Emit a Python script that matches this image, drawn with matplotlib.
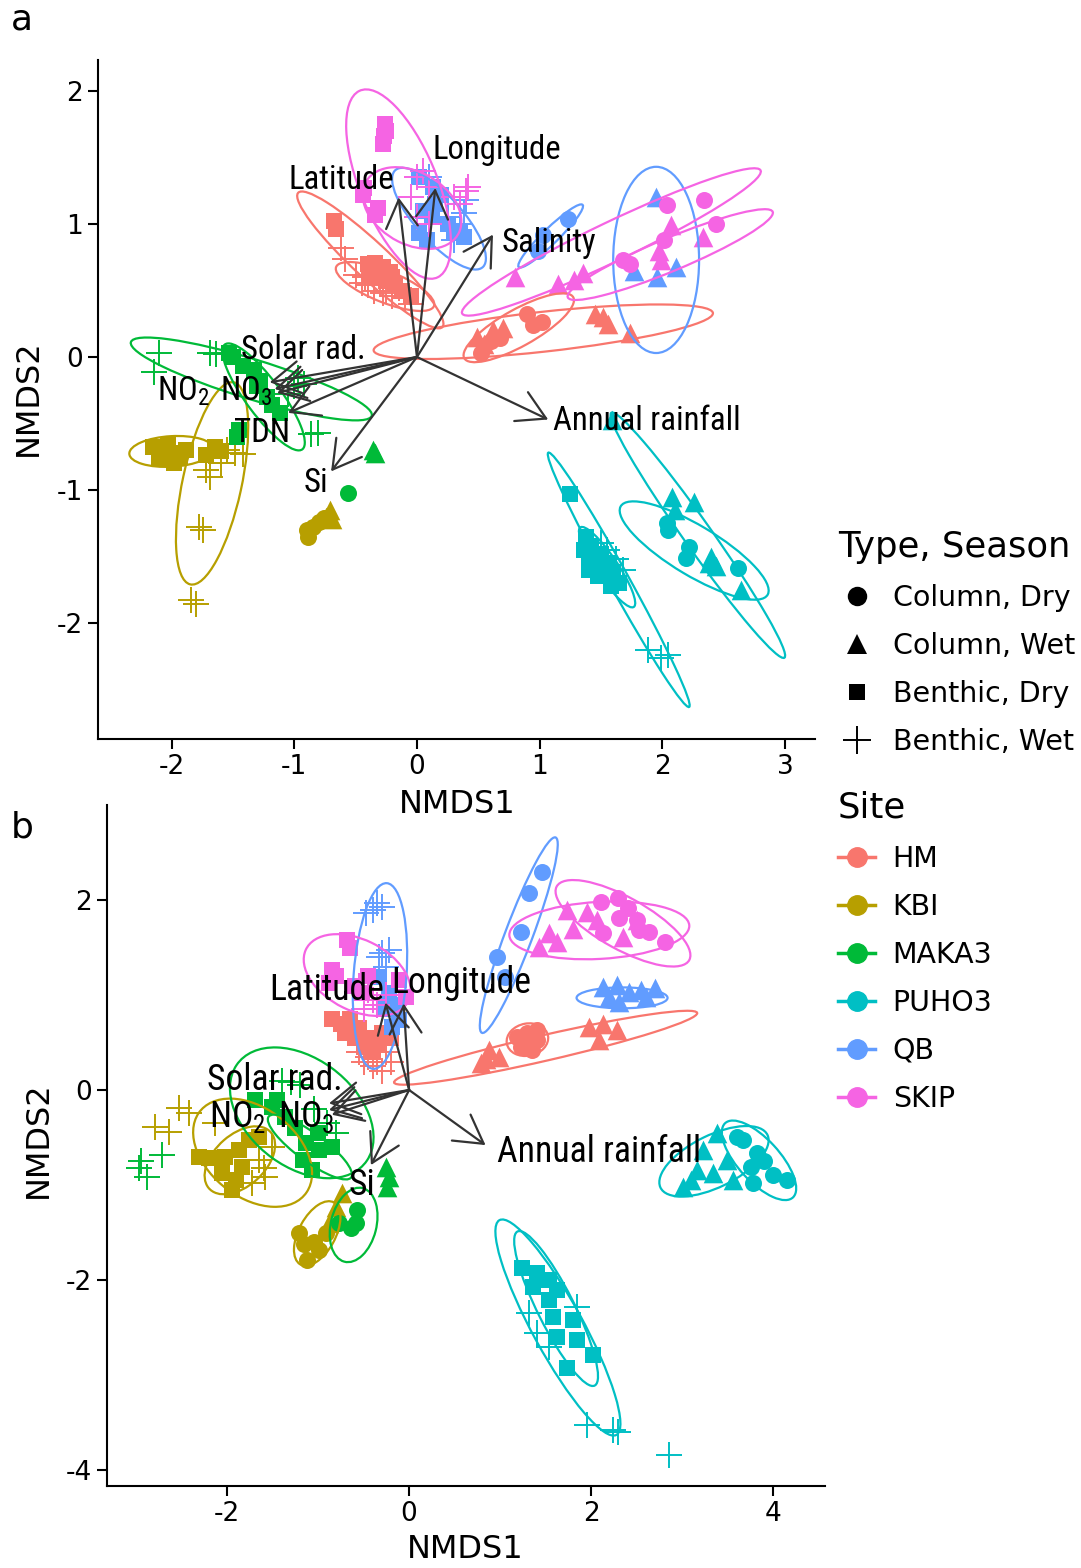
import matplotlib
matplotlib.use('Agg')
import matplotlib.pyplot as plt
from matplotlib.patches import Ellipse
from matplotlib.lines import Line2D
from matplotlib import font_manager
from matplotlib.font_manager import FontProperties

# ---------------------------------------------------------------- categories
sites = ['HM', 'KBI', 'MAKA3', 'PUHO3', 'QB', 'SKIP']
site_colors = ['#F8766D', '#B79F00', '#00BA38', '#00BFC4', '#619CFF', '#F564E3']
groups = ['Column, Dry', 'Column, Wet', 'Benthic, Dry', 'Benthic, Wet']

# ---------------------------------------------------------------- panel a points (NMDS1, NMDS2)
a_hm_cd = [(0.90, 0.32), (1.02, 0.26), (0.68, 0.14), (0.55, 0.08), (0.60, 0.12), (0.52, 0.03), (0.95, 0.24)]
a_hm_cw = [(0.49, 0.15), (0.55, 0.10), (0.62, 0.20), (0.70, 0.22), (1.45, 0.32), (1.52, 0.30), (1.56, 0.25), (1.74, 0.18)]
a_hm_bd = [(-0.68, 1.02), (-0.66, 0.96), (-0.40, 0.70), (-0.34, 0.71), (-0.28, 0.68), (-0.22, 0.64), (-0.38, 0.62),
           (-0.30, 0.60), (-0.25, 0.57), (-0.18, 0.55), (-0.12, 0.50), (-0.05, 0.46), (-0.33, 0.66), (-0.20, 0.60)]
a_hm_bw = [(-0.62, 0.82), (-0.59, 0.74), (-0.50, 0.62), (-0.45, 0.56), (-0.40, 0.54), (-0.35, 0.50), (-0.28, 0.48),
           (-0.20, 0.46), (-0.15, 0.52), (-0.30, 0.55), (-0.10, 0.44), (-0.42, 0.60), (-0.25, 0.50), (-0.05, 0.40)]

a_kbi_cd = [(-0.89, -1.35), (-0.90, -1.30), (-0.80, -1.24), (-0.76, -1.21), (-0.85, -1.28)]
a_kbi_cw = [(-0.71, -1.15), (-0.74, -1.20), (-0.69, -1.22)]
a_kbi_bd = [(-2.15, -0.68), (-2.08, -0.70), (-2.00, -0.72), (-1.93, -0.75), (-2.10, -0.76), (-1.98, -0.80),
            (-1.88, -0.70), (-2.03, -0.66), (-1.65, -0.68), (-1.60, -0.71), (-1.72, -0.74)]
a_kbi_bw = [(-1.55, -0.70), (-1.48, -0.72), (-1.42, -0.73), (-1.60, -0.80), (-1.69, -0.90), (-1.72, -0.85),
            (-1.78, -1.28), (-1.74, -1.30), (-1.84, -1.83), (-1.80, -1.86)]

a_maka_cd = [(-0.56, -1.02)]
a_maka_cw = [(-0.34, -0.72), (-0.36, -0.70)]
a_maka_bd = [(-1.53, 0.03), (-1.50, 0.00), (-1.42, -0.07), (-1.33, -0.10), (-1.28, -0.18), (-1.30, -0.22),
             (-1.18, -0.36), (-1.12, -0.42), (-1.45, -0.55), (-1.47, -0.60), (-1.22, -0.30)]
a_maka_bw = [(-2.10, 0.03), (-2.14, -0.11), (-1.69, 0.03), (-1.64, 0.02), (-0.97, -0.16), (-0.92, -0.20),
             (-1.00, -0.22), (-0.86, -0.58), (-0.81, -0.57), (-1.05, -0.28)]

a_puho_cd = [(2.04, -1.25), (2.22, -1.43), (2.19, -1.51), (2.62, -1.59), (2.05, -1.30)]
a_puho_cw = [(1.59, -0.47), (2.08, -1.05), (2.26, -1.09), (2.10, -1.15), (2.40, -1.50), (2.44, -1.57),
             (2.64, -1.75), (2.38, -1.55)]
a_puho_bd = [(1.25, -1.03), (1.38, -1.35), (1.42, -1.42), (1.40, -1.50), (1.45, -1.55), (1.40, -1.60), (1.50, -1.48),
             (1.55, -1.55), (1.60, -1.62), (1.65, -1.70), (1.48, -1.65), (1.58, -1.72), (1.36, -1.45)]
a_puho_bw = [(1.50, -1.40), (1.55, -1.45), (1.62, -1.52), (1.68, -1.60), (1.58, -1.66), (1.88, -2.20),
             (2.05, -2.24), (1.99, -2.26)]

a_qb_cd = [(1.23, 1.04), (1.03, 0.92), (0.99, 0.80)]
a_qb_cw = [(1.95, 1.20), (1.77, 0.65), (1.96, 0.60), (2.11, 0.68)]
a_qb_bd = [(0.02, 1.35), (0.13, 1.28), (0.20, 1.22), (0.02, 0.93), (0.08, 0.88), (0.30, 0.93), (0.38, 0.90),
           (0.12, 1.05), (0.25, 1.00), (0.05, 1.10), (0.15, 1.15), (0.35, 0.95)]
a_qb_bw = [(0.10, 1.35), (0.25, 1.05), (0.35, 1.00), (0.40, 1.18), (0.38, 1.08), (0.30, 0.88)]

a_skip_cd = [(2.04, 1.14), (2.34, 1.18), (2.44, 1.00), (1.68, 0.73), (1.74, 0.70), (2.01, 0.88)]
a_skip_cw = [(0.80, 0.60), (1.15, 0.55), (1.35, 0.63), (1.28, 0.58), (2.07, 0.99), (1.97, 0.80), (2.33, 0.90),
             (1.99, 0.73)]
a_skip_bd = [(-0.26, 1.75), (-0.27, 1.66), (-0.28, 1.60), (-0.43, 1.27), (-0.34, 1.07), (-0.32, 1.12),
             (-0.44, 1.22), (-0.25, 1.70)]
a_skip_bw = [(0.00, 1.35), (0.05, 1.40), (0.10, 1.28), (0.30, 1.20), (0.40, 1.25), (-0.05, 1.20), (0.00, 1.05),
             (0.10, 1.00), (0.35, 1.15), (0.42, 1.28)]

# ellipses: centre x, centre y, major, minor, angle (deg)
a_ell_hm = [(-0.38, 0.73, 1.55, 0.28, -40.5), (-0.26, 0.53, 0.85, 0.24, -20), (0.83, 0.22, 1.00, 0.28, 27),
            (1.03, 0.19, 2.78, 0.30, 5.8)]
a_ell_kbi = [(-2.00, -0.71, 0.69, 0.23, 3), (-1.67, -0.95, 1.56, 0.48, 76.7)]
a_ell_maka = [(-1.35, -0.165, 2.04, 0.30, -15.7), (-1.25, -0.30, 1.01, 0.28, -51)]
a_ell_puho = [(2.29, -1.34, 2.32, 0.22, -52.5), (2.26, -1.455, 1.37, 0.38, -28.8), (1.645, -1.675, 2.23, 0.16, -59),
              (1.55, -1.58, 0.74, 0.17, -53.7)]
a_ell_qb = [(1.95, 0.73, 1.40, 0.70, 90), (1.09, 0.91, 0.70, 0.12, 41.8), (0.18, 1.04, 1.02, 0.36, -45)]
a_ell_skip = [(-0.15, 1.30, 1.54, 0.62, -65.4), (-0.04, 1.12, 0.85, 0.55, -25), (1.585, 0.865, 2.66, 0.30, 23.8),
              (2.065, 0.77, 1.79, 0.25, 21)]

# environmental vectors, panel a
a_env = ['Latitude', 'Longitude', 'Salinity', 'Annual rainfall', 'Solar rad.', 'NO$_2$', 'NO$_3$', 'TDN', 'Si']
a_env_x = [-0.15, 0.15, 0.62, 1.07, -1.20, -1.16, -1.14, -1.05, -0.70]
a_env_y = [1.20, 1.27, 0.92, -0.47, -0.19, -0.24, -0.27, -0.42, -0.86]
a_lab_x = [-0.62, 0.65, 1.08, 1.87, -0.93, -1.90, -1.39, -1.26, -0.82]
a_lab_y = [1.33, 1.56, 0.86, -0.48, 0.05, -0.26, -0.26, -0.57, -0.95]

# ---------------------------------------------------------------- panel b points
b_hm_cd = [(1.29, 0.60), (1.18, 0.56), (1.40, 0.63), (1.35, 0.42), (1.23, 0.45), (1.41, 0.53), (1.30, 0.50)]
b_hm_cw = [(0.88, 0.42), (0.79, 0.28), (0.99, 0.35), (0.85, 0.33), (1.98, 0.66), (2.13, 0.70), (2.28, 0.63),
           (2.09, 0.53)]
b_hm_bd = [(-0.85, 0.75), (-0.75, 0.70), (-0.65, 0.75), (-0.55, 0.65), (-0.45, 0.55), (-0.35, 0.50), (-0.60, 0.55),
           (-0.50, 0.45), (-0.70, 0.60), (-0.40, 0.40), (-0.30, 0.60), (-0.20, 0.55)]
b_hm_bw = [(-0.55, 0.40), (-0.45, 0.35), (-0.35, 0.30), (-0.25, 0.40), (-0.40, 0.25), (-0.30, 0.20), (-0.50, 0.30),
           (-0.20, 0.30)]

b_kbi_cd = [(-1.21, -1.51), (-1.12, -1.79), (-0.99, -1.68), (-1.05, -1.60), (-0.91, -1.51), (-1.15, -1.62)]
b_kbi_cw = [(-0.74, -1.08), (-0.80, -1.23), (-0.88, -1.40)]
b_kbi_bd = [(-2.31, -0.70), (-2.20, -0.72), (-2.02, -0.70), (-1.95, -1.05), (-1.87, -0.63), (-1.76, -0.53),
            (-1.65, -0.49), (-2.06, -0.87), (-1.84, -0.81), (-1.90, -0.95)]
b_kbi_bw = [(-2.53, -0.19), (-2.42, -0.24), (-2.79, -0.39), (-2.64, -0.44), (-1.73, -0.98), (-1.58, -0.92),
            (-1.65, -0.74), (-1.51, -0.60), (-2.13, -0.35), (-1.60, -0.82)]

b_maka_cd = [(-0.57, -1.26), (-0.58, -1.40), (-0.77, -1.40), (-0.64, -1.45)]
b_maka_cw = [(-0.22, -0.92), (-0.24, -1.02), (-0.25, -0.81)]
b_maka_bd = [(-1.69, -0.11), (-1.51, -0.18), (-1.36, -0.28), (-1.13, -0.56), (-1.07, -0.84), (-0.99, -0.63),
             (-0.85, -0.60), (-1.17, -0.74), (-1.25, -0.40), (-1.45, -0.10), (-1.00, -0.45)]
b_maka_bw = [(-2.97, -0.82), (-2.88, -0.92), (-2.72, -0.68), (-2.95, -0.75), (-1.40, 0.10), (-1.30, 0.08),
             (-1.20, 0.05), (-0.90, -0.35), (-0.80, -0.45), (-1.05, -0.20)]

b_puho_cd = [(3.67, -0.53), (3.82, -0.66), (3.76, -0.81), (4.00, -0.89), (4.15, -0.95), (3.78, -0.98), (3.60, -0.49),
             (3.90, -0.75)]
b_puho_cw = [(3.38, -0.45), (3.16, -0.84), (3.01, -1.02), (3.34, -0.87), (3.49, -0.74), (3.23, -0.63), (3.56, -0.95),
             (3.10, -0.95)]
b_puho_bd = [(1.24, -1.87), (1.41, -1.93), (1.54, -2.00), (1.62, -2.11), (1.54, -2.21), (1.58, -2.39), (1.80, -2.42),
             (1.62, -2.60), (1.84, -2.63), (2.02, -2.79), (1.74, -2.93), (1.36, -2.07)]
b_puho_bw = [(1.40, -2.56), (1.54, -2.70), (1.95, -3.53), (2.24, -3.58), (2.29, -3.60), (2.86, -3.84), (1.32, -2.35),
             (1.84, -2.28)]

b_qb_cd = [(1.46, 2.29), (1.32, 2.07), (1.23, 1.66), (0.97, 1.40), (1.05, 1.19)]
b_qb_cw = [(2.13, 1.08), (2.28, 1.11), (2.42, 1.03), (2.55, 1.05), (2.70, 1.07), (2.20, 0.98), (2.31, 0.93),
           (2.60, 0.98)]
b_qb_bd = [(-0.33, 1.19), (-0.22, 1.02), (-0.11, 0.74), (-0.19, 0.66), (-0.28, 0.85), (-0.15, 0.90)]
b_qb_bw = [(-0.47, 1.86), (-0.35, 1.97), (-0.30, 1.93), (-0.40, 1.90), (-0.30, 1.44), (-0.22, 1.47), (-0.33, 1.40),
           (-0.25, 1.30)]

b_skip_cd = [(2.11, 1.98), (2.29, 2.02), (2.40, 1.92), (2.50, 1.79), (2.64, 1.66), (2.81, 1.56), (2.13, 1.65),
             (2.31, 1.81), (2.53, 1.68)]
b_skip_cw = [(1.74, 1.89), (1.95, 1.87), (1.54, 1.65), (1.43, 1.51), (1.62, 1.56), (2.06, 1.79), (2.50, 1.79),
             (2.35, 1.61), (1.80, 1.70)]
b_skip_bd = [(-0.68, 1.58), (-0.65, 1.50), (-0.85, 1.26), (-0.80, 1.20), (-0.88, 1.13), (-0.52, 1.02),
             (-0.11, 1.16), (-0.03, 0.98), (-0.60, 1.10), (-0.45, 1.20)]
b_skip_bw = [(-0.55, 1.10), (-0.45, 1.05), (-0.40, 0.95), (-0.35, 0.90), (-0.50, 0.85), (-0.25, 1.00)]

b_ell_hm = [(1.50, 0.445, 3.41, 0.27, 12.4), (1.30, 0.53, 0.46, 0.34, 10)]
b_ell_kbi = [(-1.72, -0.66, 1.45, 0.95, -35), (-1.86, -0.74, 0.90, 0.55, 40), (-1.01, -1.51, 0.75, 0.40, 60)]
b_ell_maka = [(-1.18, -0.24, 1.75, 1.15, -35), (-1.09, -0.60, 1.11, 0.30, -35), (-0.61, -1.42, 0.80, 0.50, 75)]
b_ell_puho = [(1.635, -2.50, 2.60, 0.55, -60.3), (1.615, -2.30, 1.83, 0.40, -62.3), (3.845, -0.74, 1.08, 0.45, -46),
              (3.35, -0.75, 1.30, 0.55, 25)]
b_ell_qb = [(1.205, 1.63, 2.21, 0.30, 68.5), (2.34, 0.97, 1.00, 0.22, 0), (-0.32, 1.20, 1.96, 0.58, 85.6)]
b_ell_skip = [(2.35, 1.755, 1.65, 0.55, -27.8), (2.09, 1.68, 1.98, 0.60, 3), (-0.57, 1.21, 1.25, 0.75, -25)]

b_env = ['Latitude', 'Longitude', 'Annual rainfall', 'Solar rad.', 'NO$_2$', 'NO$_3$', 'Si']
b_env_x = [-0.26, -0.06, 0.84, -0.88, -0.88, -0.85, -0.42]
b_env_y = [0.92, 0.91, -0.58, -0.14, -0.21, -0.26, -0.79]
b_lab_x = [-0.91, 0.57, 2.09, -1.48, -1.88, -1.13, -0.52]
b_lab_y = [1.05, 1.13, -0.65, 0.11, -0.28, -0.28, -1.00]

a_points = [[a_hm_cd, a_hm_cw, a_hm_bd, a_hm_bw], [a_kbi_cd, a_kbi_cw, a_kbi_bd, a_kbi_bw],
            [a_maka_cd, a_maka_cw, a_maka_bd, a_maka_bw], [a_puho_cd, a_puho_cw, a_puho_bd, a_puho_bw],
            [a_qb_cd, a_qb_cw, a_qb_bd, a_qb_bw], [a_skip_cd, a_skip_cw, a_skip_bd, a_skip_bw]]
b_points = [[b_hm_cd, b_hm_cw, b_hm_bd, b_hm_bw], [b_kbi_cd, b_kbi_cw, b_kbi_bd, b_kbi_bw],
            [b_maka_cd, b_maka_cw, b_maka_bd, b_maka_bw], [b_puho_cd, b_puho_cw, b_puho_bd, b_puho_bw],
            [b_qb_cd, b_qb_cw, b_qb_bd, b_qb_bw], [b_skip_cd, b_skip_cw, b_skip_bd, b_skip_bw]]
a_ells = [a_ell_hm, a_ell_kbi, a_ell_maka, a_ell_puho, a_ell_qb, a_ell_skip]
b_ells = [b_ell_hm, b_ell_kbi, b_ell_maka, b_ell_puho, b_ell_qb, b_ell_skip]

# ---------------------------------------------------------------- styling
markers = ['o', '^', 's', '+']
msizes = [150, 200, 130, 340]

plt.rcParams['font.family'] = ['DejaVu Sans']
plt.rcParams['axes.unicode_minus'] = False
plt.rcParams['mathtext.default'] = 'regular'


# the vector labels are in a narrow sans; use a condensed face if one is installed
def find_label_font():
    prefs = ['Liberation Sans Narrow', 'Arial Narrow', 'Roboto Condensed', 'Open Sans Condensed',
             'Noto Sans', 'Roboto', 'Open Sans', 'Inter']
    for name in prefs:
        for f in font_manager.fontManager.ttflist:
            fn = f.fname
            if f.name != name or f.style != 'normal':
                continue
            if any(k in fn for k in ['Bold', 'Italic', 'Light', 'Thin', 'Medium', 'Black', 'Semi', 'Extra']):
                continue
            narrow = ('Narrow' in name or 'Condensed' in name or 'Condensed' in fn
                      or str(f.stretch) == 'condensed')
            if narrow:
                return fn
    return None


lab_path = find_label_font()
if lab_path:
    lab_prop = FontProperties(fname=lab_path)
else:
    lab_prop = FontProperties(family='Liberation Sans')

W, H = 1081, 1568
fig = plt.figure(figsize=(W / 100, H / 100), dpi=100)

# size the label font so that "Annual rainfall" is as wide as in the original panel a
probe_prop = lab_prop.copy()
probe_prop.set_size(20)
probe = fig.text(0, 0, 'Annual rainfall', fontproperties=probe_prop)
probe_w = probe.get_window_extent(fig.canvas.get_renderer()).width
probe.remove()
lab_size_a = 20 * 187 / probe_w
lab_size_b = 20 * 203 / probe_w


def draw_panel(ax, points, ells, env, ex, ey, lx, ly, labsize):
    for si, col in enumerate(site_colors):
        for gi, pts in enumerate(points[si]):
            xs = [p[0] for p in pts]
            ys = [p[1] for p in pts]
            if markers[gi] == '+':
                ax.scatter(xs, ys, marker='+', s=msizes[gi], color=col, linewidths=1.4, zorder=2)
            else:
                ax.scatter(xs, ys, marker=markers[gi], s=msizes[gi], color=col, linewidths=0, zorder=2)
    for si, col in enumerate(site_colors):
        for cx, cy, w, h, ang in ells[si]:
            ax.add_patch(Ellipse((cx, cy), w, h, angle=ang, fill=False, ec=col, lw=1.6, zorder=3))
    prop = lab_prop.copy()
    prop.set_size(labsize)
    for i in range(len(env)):
        ax.annotate('', xy=(ex[i], ey[i]), xytext=(0, 0),
                    arrowprops=dict(arrowstyle='->,head_length=2.0,head_width=1.15', color='#333333',
                                    lw=1.6, shrinkA=0, shrinkB=0, mutation_scale=10), zorder=4)
        ax.text(lx[i], ly[i], env[i], fontproperties=prop,
                ha='center', va='center', color='black', zorder=5)
    for s in ['top', 'right']:
        ax.spines[s].set_visible(False)
    for s in ['left', 'bottom']:
        ax.spines[s].set_linewidth(1.5)
    ax.tick_params(direction='out', length=7, width=1.5, labelsize=19, colors='black', pad=4)


# panel a
ax_a = fig.add_axes([98 / W, 1 - 739 / H, (815 - 98) / W, (739 - 60) / H])
draw_panel(ax_a, a_points, a_ells, a_env, a_env_x, a_env_y, a_lab_x, a_lab_y, lab_size_a)
ax_a.set_xlim(-2.60, 3.245)
ax_a.set_ylim(-2.872, 2.233)
ax_a.set_xticks([-2, -1, 0, 1, 2, 3])
ax_a.set_yticks([-2, -1, 0, 1, 2])

# panel b
ax_b = fig.add_axes([107 / W, 1 - 1486 / H, (825 - 107) / W, (1486 - 805) / H])
draw_panel(ax_b, b_points, b_ells, b_env, b_env_x, b_env_y, b_lab_x, b_lab_y, lab_size_b)
ax_b.set_xlim(-3.32, 4.57)
ax_b.set_ylim(-4.168, 3.0)
ax_b.set_xticks([-2, 0, 2, 4])
ax_b.set_yticks([-4, -2, 0, 2])

# axis titles and panel tags
fig.text(457 / W, 1 - 805 / H, 'NMDS1', fontsize=23, ha='center', va='center')
fig.text(28 / W, 1 - 398 / H, 'NMDS2', fontsize=23, ha='center', va='center', rotation=90)
fig.text(465 / W, 1 - 1550 / H, 'NMDS1', fontsize=23, ha='center', va='center')
fig.text(38 / W, 1 - 1140 / H, 'NMDS2', fontsize=23, ha='center', va='center', rotation=90)
fig.text(22 / W, 1 - 20 / H, 'a', fontsize=26, ha='center', va='center')
fig.text(22 / W, 1 - 828 / H, 'b', fontsize=26, ha='center', va='center')

# legends
shape_handles = []
for gi, m in enumerate(markers):
    if m == '+':
        shape_handles.append(Line2D([], [], ls='none', marker='+', color='black', markersize=20, mew=1.4))
    else:
        shape_handles.append(Line2D([], [], ls='none', marker=m, color='black',
                                    markersize=[14, 15, 12][gi], mew=0))
fig.legend(shape_handles, groups, title='Type, Season', loc='upper left',
           bbox_to_anchor=(838 / W, 1 - 530 / H), frameon=False, fontsize=20.5, title_fontsize=25.5,
           handlelength=1.3, handletextpad=0.62, labelspacing=0.70, borderpad=0, borderaxespad=0,
           alignment='left')

site_handles = [Line2D([0, 1], [0, 0], color=c, lw=2.5, marker='o', markersize=14) for c in site_colors]
fig.legend(site_handles, sites, title='Site', loc='upper left',
           bbox_to_anchor=(838 / W, 1 - 791 / H), frameon=False, fontsize=20.5, title_fontsize=25.5,
           handlelength=1.3, handletextpad=0.62, labelspacing=0.70, borderpad=0, borderaxespad=0,
           alignment='left')

fig.savefig('out.png', dpi=100)
